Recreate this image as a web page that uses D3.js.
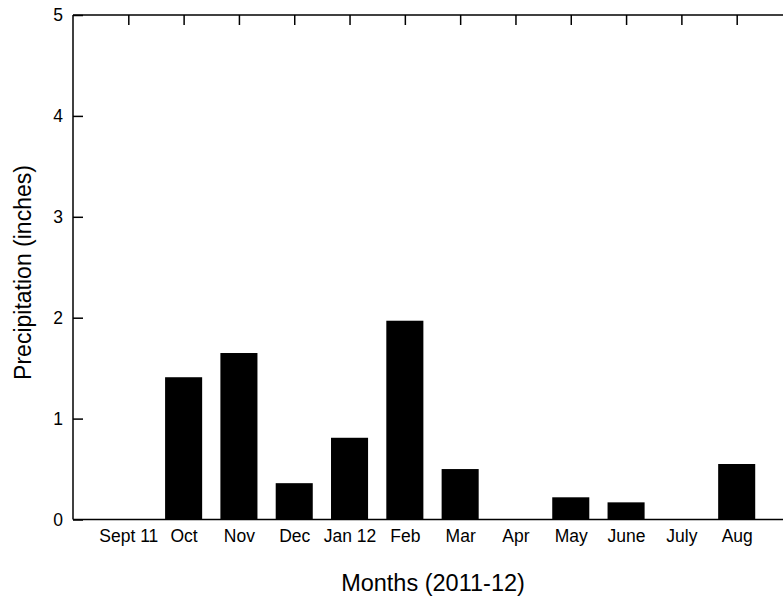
<!DOCTYPE html>
<html>
<head>
<meta charset="utf-8">
<script src="https://cdn.jsdelivr.net/npm/d3@7"></script>
<style>
  html, body { margin: 0; padding: 0; background: #fff; }
  svg { display: block; }
  text { font-family: "Liberation Sans", Arial, sans-serif; fill: #000; }
</style>
</head>
<body>
<svg id="chart" width="783" height="597"></svg>
<script>
const months = ["Sept 11", "Oct", "Nov", "Dec", "Jan 12", "Feb", "Mar", "Apr", "May", "June", "July", "Aug"];
const precip = [0, 1.41, 1.65, 0.36, 0.81, 1.97, 0.50, 0, 0.22, 0.17, 0, 0.55];
const yTicks = [0, 1, 2, 3, 4, 5];
const xTitle = "Months (2011-12)";
const yTitle = "Precipitation (inches)";

(function () {
const svg = d3.select("#chart");
const mLeft = 73, mTop = 15, mBottom = 519.5, mRight = 792;

const x = d3.scaleLinear().domain([0, months.length + 1]).range([mLeft, mRight]);
const y = d3.scaleLinear().domain([0, 5]).range([mBottom, mTop]);
const pos = months.map((m, i) => i + 1);
const step = x(1) - x(0);
const barW = step * 0.67;

// bars
svg.append("g").selectAll("rect")
  .data(precip)
  .join("rect")
  .attr("x", (d, i) => x(pos[i]) - barW / 2)
  .attr("width", barW)
  .attr("y", d => y(d))
  .attr("height", d => y(0) - y(d))
  .attr("fill", "#000");

// left axis
const gl = svg.append("g").attr("transform", `translate(${mLeft},0)`)
  .call(d3.axisLeft(y).tickValues(yTicks).tickFormat(d3.format("d")).tickSize(-10).tickPadding(10));
// top axis
const gt = svg.append("g").attr("transform", `translate(0,${mTop})`)
  .call(d3.axisTop(x).tickValues(pos).tickFormat("").tickSize(-10));
// bottom axis
const gb = svg.append("g").attr("transform", `translate(0,${mBottom})`)
  .call(d3.axisBottom(x).tickValues(pos).tickFormat((d, i) => months[i]).tickSize(0).tickPadding(10));

[gl, gt, gb].forEach(g => {
  g.selectAll(".domain").attr("stroke", "#000").attr("stroke-width", 1.5);
  g.selectAll(".tick line").attr("stroke", "#000").attr("stroke-width", 1.5);
  g.selectAll(".tick text").style("font-size", "17.5px").attr("fill", "#000");
});
gl.select(".domain").attr("d", `M0,${mBottom}V${mTop}`);
gt.select(".domain").attr("d", `M${mLeft},0H${mRight}`);
gb.select(".domain").attr("d", `M${mLeft},0H${mRight}`);
gb.selectAll(".tick text").attr("dy", "0.71em");

// axis titles
svg.append("text")
  .attr("x", 433).attr("y", 591)
  .attr("text-anchor", "middle")
  .style("font-size", "23.5px")
  .text(xTitle);

svg.append("text")
  .attr("transform", `translate(31,${(165 + 380) / 2}) rotate(-90)`)
  .attr("text-anchor", "middle")
  .style("font-size", "23px")
  .text(yTitle);
})();
</script>
</body>
</html>
